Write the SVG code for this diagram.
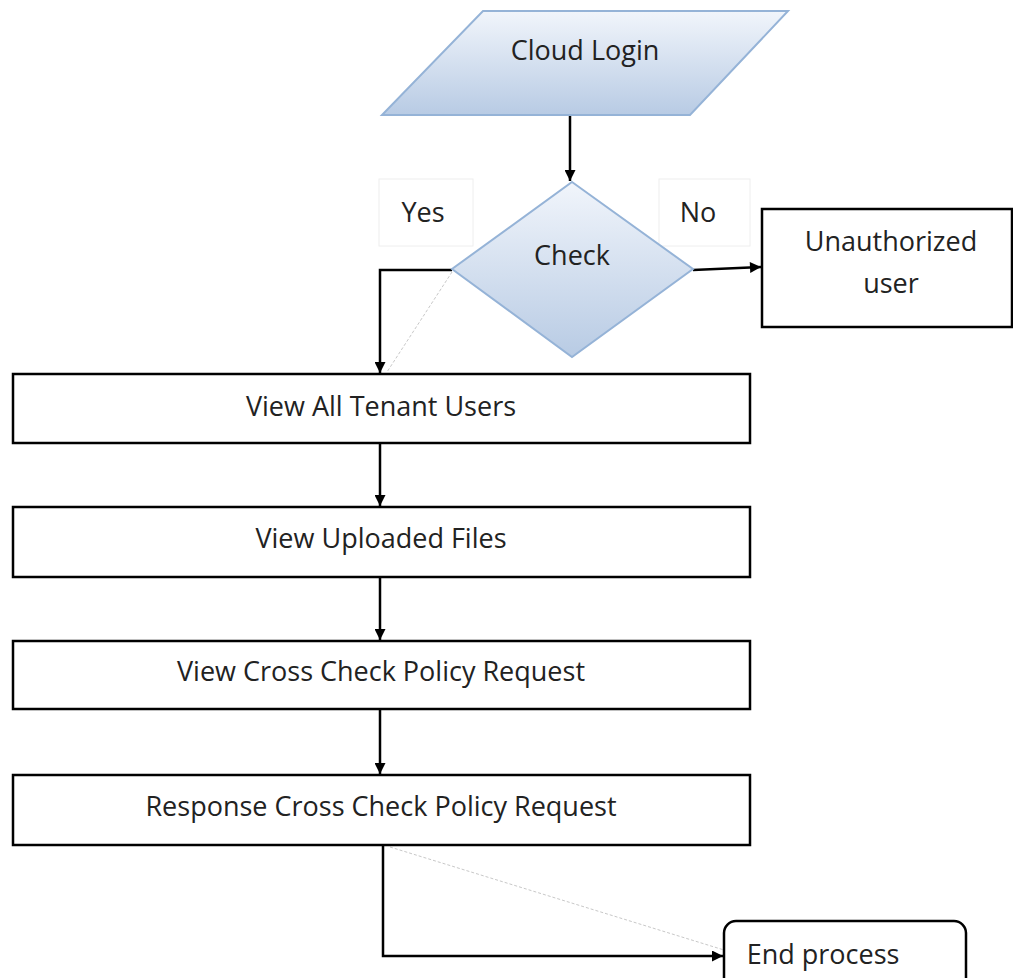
<svg xmlns="http://www.w3.org/2000/svg" width="1013" height="978" viewBox="0 0 1013 978">
<defs>
<linearGradient id="blueFill" x1="0" y1="0" x2="0" y2="1">
<stop offset="0" stop-color="#f1f5fb"/>
<stop offset="1" stop-color="#b8cbe4"/>
</linearGradient>
<marker id="arrowL" viewBox="0 0 10 10" refX="10" refY="5" markerWidth="12" markerHeight="11" orient="auto" markerUnits="userSpaceOnUse">
<path d="M0,0 L10,5 L0,10 z" fill="#000"/>
</marker>
</defs>
<style>
text{font-family:"Open Sans","Noto Sans",sans-serif;font-size:27px;fill:#222;text-anchor:middle;dominant-baseline:central}
.shape{fill:url(#blueFill);stroke:#95b3d7;stroke-width:2}
.box{fill:#fff;stroke:#000;stroke-width:2.5}
.label{fill:#fff;stroke:#eeeeee;stroke-width:1}
.conn{fill:none;stroke:#000;stroke-width:2.5;marker-end:url(#arrowL)}
.faint{fill:none;stroke:#c8c8c8;stroke-width:1;stroke-dasharray:3 2}
</style>
<g id="connectors">
<path class="faint" d="M452,272 L387,372"/>
<path class="faint" d="M390,847 L724,950"/>
<path class="conn" d="M570,115 L570,181"/>
<path class="conn" d="M693,270 L761,267"/>
<path class="conn" d="M452,270 L380,270 L380,373"/>
<path class="conn" d="M380,443 L380,506"/>
<path class="conn" d="M380,577 L380,640"/>
<path class="conn" d="M380,709 L380,774"/>
<path class="conn" d="M383,845 L383,956 L723,956"/>
</g>
<g id="label-yes">
<rect class="label" x="379" y="179" width="94" height="67"/>
<text x="423" y="211">Yes</text>
</g>
<g id="label-no">
<rect class="label" x="659" y="179" width="91" height="67"/>
<text x="698" y="211">No</text>
</g>
<g id="cloud-login">
<polygon class="shape" points="483,11 788,11 690,115 382,115"/>
<text x="585" y="49">Cloud Login</text>
</g>
<g id="check">
<polygon class="shape" points="572,182 693,269 572,357 452,269"/>
<text x="572" y="254">Check</text>
</g>
<g id="unauthorized">
<rect class="box" x="762" y="209" width="250" height="118"/>
<text x="891" y="240">Unauthorized</text>
<text x="891" y="282">user</text>
</g>
<g id="view-tenant">
<rect class="box" x="13" y="374" width="737" height="69"/>
<text x="381" y="405">View All Tenant Users</text>
</g>
<g id="view-files">
<rect class="box" x="13" y="507" width="737" height="70"/>
<text x="381" y="537">View Uploaded Files</text>
</g>
<g id="view-policy">
<rect class="box" x="13" y="641" width="737" height="68"/>
<text x="381" y="670">View Cross Check Policy Request</text>
</g>
<g id="response-policy">
<rect class="box" x="13" y="775" width="737" height="70"/>
<text x="381" y="805">Response Cross Check Policy Request</text>
</g>
<g id="end-process">
<rect class="box" x="724" y="921" width="242" height="70" rx="12" ry="12"/>
<text x="823" y="953">End process</text>
</g>
</svg>
